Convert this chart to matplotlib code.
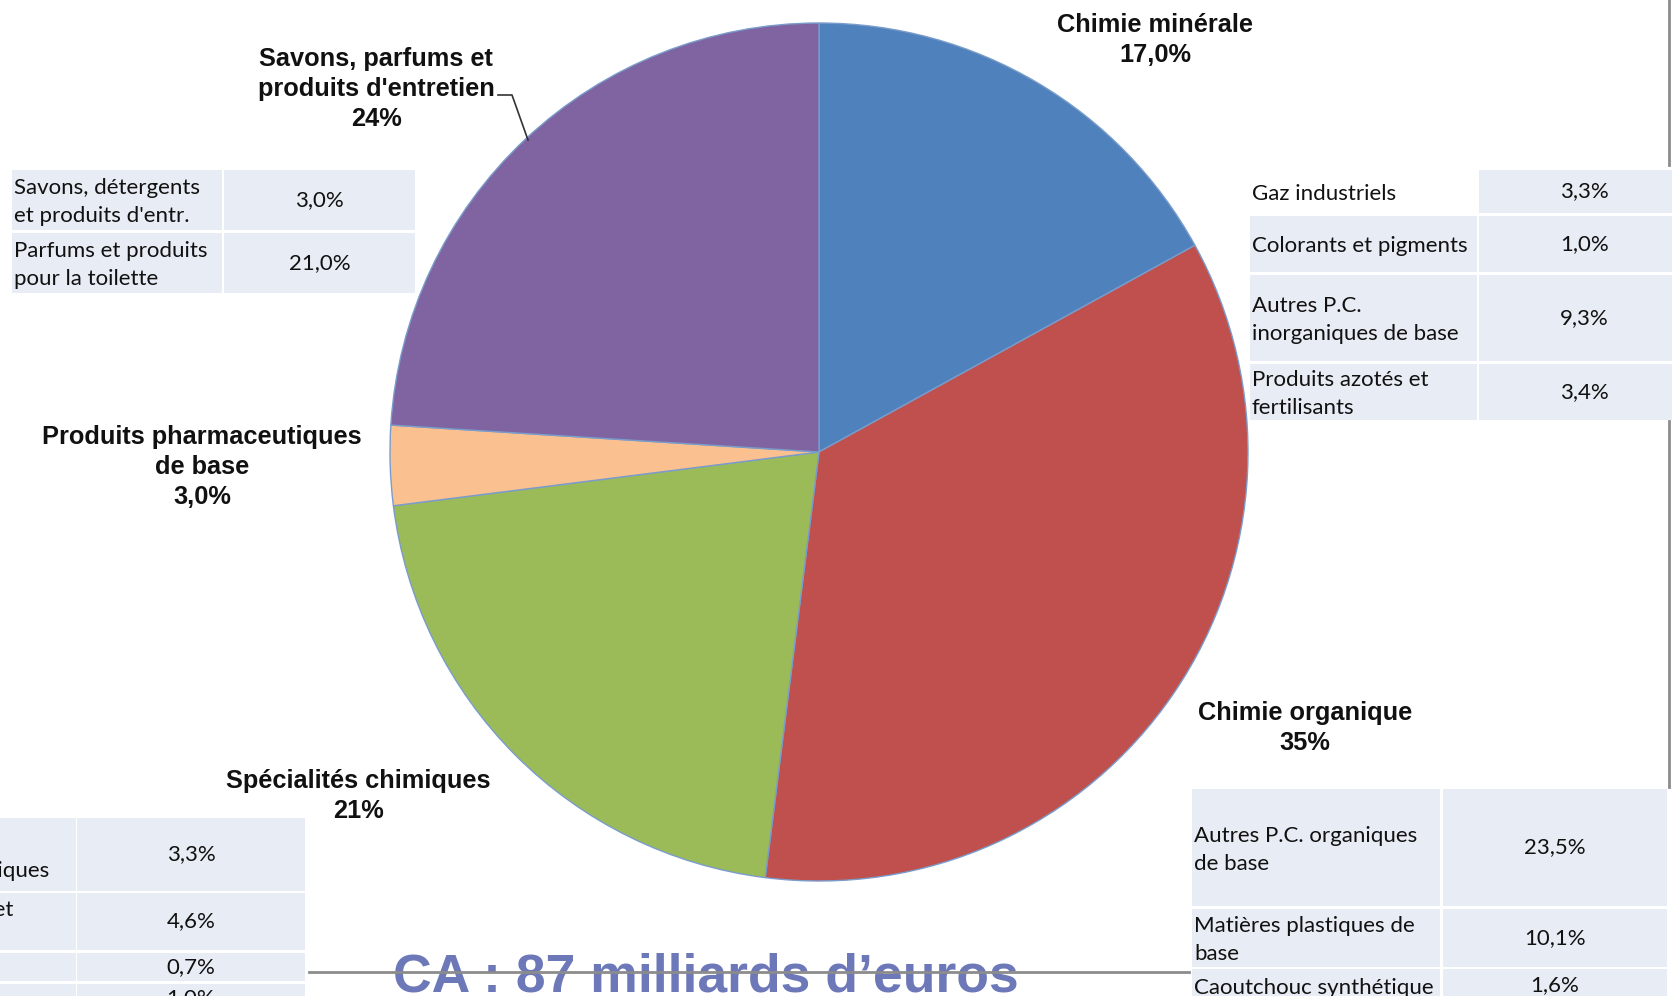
import matplotlib
matplotlib.use('Agg')
import matplotlib.pyplot as plt
from matplotlib.patches import Rectangle

# pie data
sectors = ['Chimie minérale', 'Chimie organique', 'Spécialités chimiques',
           'Produits pharmaceutiques\nde base', "Savons, parfums et\nproduits d'entretien"]
shares = [17.0, 35.0, 21.0, 3.0, 24.0]
share_txt = ['17,0%', '35%', '21%', '3,0%', '24%']
colors = ['#4F81BD', '#C0504D', '#9BBB59', '#FAC090', '#8064A2']

# detail tables
soap_labels = ["Savons, détergents\net produits d'entr.", 'Parfums et produits\npour la toilette']
soap_values = ['3,0%', '21,0%']
mineral_labels = ['Gaz industriels', 'Colorants et pigments',
                  'Autres P.C.\ninorganiques de base', 'Produits azotés et\nfertilisants']
mineral_values = ['3,3%', '1,0%', '9,3%', '3,4%']
organic_labels = ['Autres P.C. organiques\nde base', 'Matières plastiques de\nbase',
                  'Caoutchouc synthétique']
organic_values = ['23,5%', '10,1%', '1,6%']
special_labels = ['Produits\nagrochimiques', 'Peintures, vernis et\nmastics', '', '']
special_values = ['3,3%', '4,6%', '0,7%', '1,0%']

W, H = 1672, 996
CELL = '#E8ECF4'
BODY = ['Lato', 'DejaVu Sans']
BOLD = ['Liberation Sans', 'DejaVu Sans']


def draw_table(ax, labels, values, rows, col1, col2, skip_fill=(), label_x=None, label_ha='left'):
    for i, (lab, val) in enumerate(zip(labels, values)):
        y0, y1 = rows[i]
        if i not in skip_fill:
            ax.add_patch(Rectangle((col1[0], y0), col1[1] - col1[0], y1 - y0,
                                   facecolor=CELL, edgecolor='none', zorder=1))
        ax.add_patch(Rectangle((col2[0], y0), col2[1] - col2[0], y1 - y0,
                               facecolor=CELL, edgecolor='none', zorder=1))
        yc = (y0 + y1) / 2
        if lab:
            lx = col1[0] + 2 if label_x is None else label_x[i]
            ax.text(lx, yc + 2, lab, ha=label_ha, va='center', multialignment='left',
                    fontsize=16, family=BODY, color='#111111', linespacing=1.5, zorder=3)
        ax.text((col2[0] + col2[1]) / 2, yc, val, ha='center', va='center',
                fontsize=16, family=BODY, color='#111111', zorder=3)


def main():
    fig = plt.figure(figsize=(W / 100, H / 100), dpi=100)
    ax = fig.add_axes([0, 0, 1, 1])
    ax.pie(shares, colors=colors, startangle=-90, counterclock=True,
           center=(819, 452), radius=429,
           wedgeprops=dict(edgecolor='#7A9CCB', linewidth=1.0))
    ax.set_xlim(0, W)
    ax.set_ylim(H, 0)
    ax.set_aspect('auto')
    ax.axis('off')

    # sector labels
    label_pos = [(1155, 40), (1305, 728), (358, 796), (202, 467), (376, 89)]
    for name, txt, (x, y) in zip(sectors, share_txt, label_pos):
        ax.text(x, y, name + '\n' + txt, ha='center', va='center', fontsize=18.3,
                family=BOLD, weight='bold', color='#111111', linespacing=1.32, zorder=4)
    ax.plot([498, 512, 528], [95, 95, 140], color='#333333', lw=1.2, zorder=4)

    draw_table(ax, soap_labels, soap_values, [(170, 230), (233, 293)],
               (12, 222), (224, 415))
    draw_table(ax, mineral_labels, mineral_values,
               [(170, 213), (216, 272), (275, 361), (364, 420)],
               (1250, 1477), (1479, 1690), skip_fill=(0,))
    draw_table(ax, organic_labels, organic_values,
               [(789, 906), (909, 967), (969, 1002)],
               (1192, 1440), (1443, 1667))
    draw_table(ax, special_labels, special_values,
               [(818, 891), (893, 950), (953, 981), (984, 1012)],
               (-10, 76), (77, 305), label_x=[50, 13, 0, 0], label_ha='right')

    # frame lines
    ax.plot([1669, 1669], [0, 165], color='#8C8C8C', lw=2, zorder=2)
    ax.plot([1669, 1669], [421, 787], color='#8C8C8C', lw=2, zorder=2)

    ax.text(706, 991, 'CA : 87 milliards d\u2019euros', ha='center', va='baseline',
            fontsize=38.5, family=BOLD, weight='bold', color='#6C78B8', zorder=5)
    ax.plot([309, 1189], [972, 972], color='#8C8C8C', lw=2, zorder=6)

    fig.savefig('out.png', dpi=100)


if __name__ == '__main__':
    main()
